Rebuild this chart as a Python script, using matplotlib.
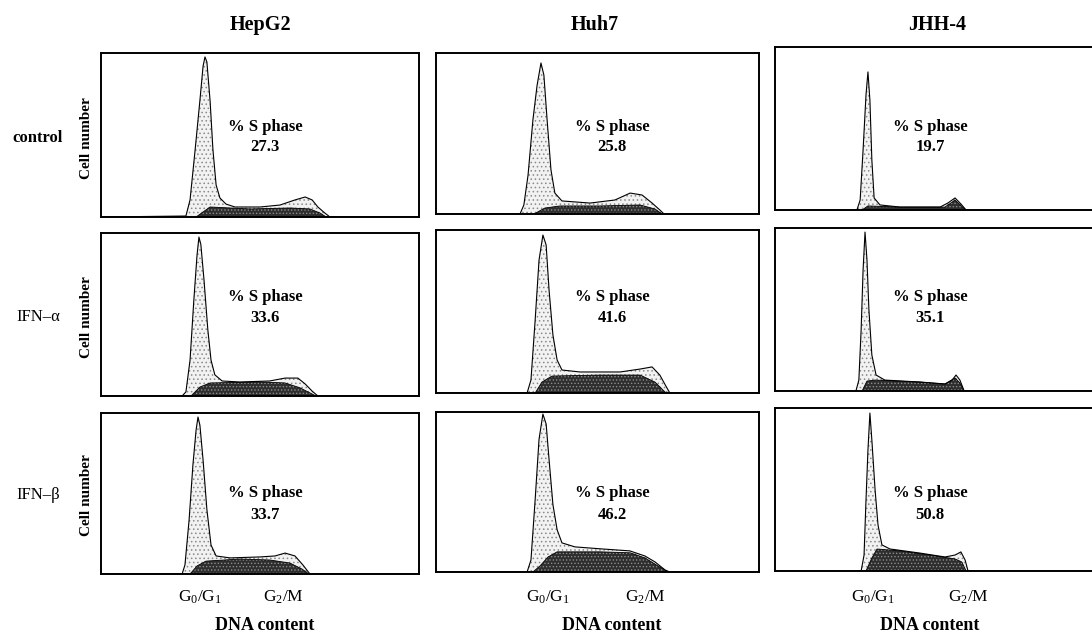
import matplotlib
matplotlib.use("Agg")
import matplotlib.pyplot as plt

plt.rcParams['font.family'] = ['Liberation Serif', 'DejaVu Serif']
plt.rcParams['mathtext.fontset'] = 'custom'
plt.rcParams['mathtext.rm'] = 'Liberation Serif'
plt.rcParams['mathtext.it'] = 'Liberation Serif:italic'
plt.rcParams['mathtext.bf'] = 'Liberation Serif:bold'
plt.rcParams['hatch.linewidth'] = 0.6

# ---------------- data ----------------
cell_lines = ["HepG2", "Huh7", "JHH-4"]
treatments = ["control", "IFN\u2013\u03b1", "IFN\u2013\u03b2"]
s_phase_hepg2 = [27.3, 33.6, 33.7]
s_phase_huh7 = [25.8, 41.6, 46.2]
s_phase_jhh4 = [19.7, 35.1, 50.8]

# histogram outlines (DNA content as fraction of range, cell number as fraction of max)
hepg2_ctrl_x = [0.0, 0.267, 0.280, 0.296, 0.311, 0.321, 0.327, 0.333, 0.343, 0.352, 0.362, 0.374, 0.393, 0.421, 0.50, 0.563, 0.61, 0.642, 0.664, 0.682, 0.704, 0.72, 1.0]
hepg2_ctrl_y = [0.0, 0.006, 0.104, 0.41, 0.71, 0.92, 0.976, 0.945, 0.71, 0.41, 0.195, 0.116, 0.079, 0.061, 0.061, 0.073, 0.104, 0.122, 0.104, 0.061, 0.024, 0.0, 0.0]
hepg2_ctrl_sx = [0.299, 0.343, 0.469, 0.594, 0.657, 0.689, 0.708]
hepg2_ctrl_sy = [0.0, 0.061, 0.049, 0.055, 0.049, 0.024, 0.0]

hepg2_ifna_x = [0.0, 0.255, 0.267, 0.28, 0.292, 0.302, 0.308, 0.314, 0.324, 0.336, 0.346, 0.358, 0.381, 0.437, 0.53, 0.579, 0.619, 0.642, 0.664, 0.682, 1.0]
hepg2_ifna_y = [0.0, 0.0, 0.025, 0.22, 0.59, 0.865, 0.975, 0.93, 0.71, 0.405, 0.22, 0.13, 0.092, 0.086, 0.092, 0.11, 0.11, 0.074, 0.03, 0.0, 0.0]
hepg2_ifna_sx = [0.283, 0.311, 0.343, 0.5, 0.579, 0.626, 0.664, 0.676]
hepg2_ifna_sy = [0.0, 0.055, 0.08, 0.086, 0.08, 0.05, 0.012, 0.0]

hepg2_ifnb_x = [0.0, 0.255, 0.264, 0.277, 0.289, 0.299, 0.305, 0.311, 0.321, 0.333, 0.346, 0.362, 0.406, 0.5, 0.547, 0.579, 0.61, 0.635, 0.657, 1.0]
hepg2_ifnb_y = [0.0, 0.0, 0.056, 0.335, 0.677, 0.894, 0.975, 0.925, 0.708, 0.4, 0.18, 0.112, 0.1, 0.106, 0.112, 0.13, 0.112, 0.056, 0.0, 0.0]
hepg2_ifnb_sx = [0.28, 0.302, 0.33, 0.437, 0.531, 0.594, 0.632, 0.654]
hepg2_ifnb_sy = [0.0, 0.05, 0.08, 0.093, 0.087, 0.068, 0.031, 0.0]

huh7_ctrl_x = [0.0, 0.26, 0.272, 0.285, 0.30, 0.313, 0.325, 0.334, 0.344, 0.356, 0.368, 0.39, 0.477, 0.554, 0.601, 0.638, 0.669, 0.693, 0.706, 1.0]
huh7_ctrl_y = [0.0, 0.0, 0.056, 0.242, 0.584, 0.80, 0.938, 0.863, 0.584, 0.273, 0.13, 0.081, 0.068, 0.087, 0.13, 0.118, 0.068, 0.025, 0.0, 0.0]
huh7_ctrl_sx = [0.303, 0.337, 0.384, 0.508, 0.632, 0.678, 0.70]
huh7_ctrl_sy = [0.0, 0.037, 0.05, 0.05, 0.056, 0.031, 0.0]

huh7_ifna_x = [0.0, 0.282, 0.294, 0.307, 0.319, 0.331, 0.341, 0.35, 0.362, 0.375, 0.39, 0.446, 0.57, 0.632, 0.669, 0.693, 0.715, 0.724, 1.0]
huh7_ifna_y = [0.0, 0.0, 0.08, 0.448, 0.816, 0.969, 0.908, 0.632, 0.356, 0.202, 0.141, 0.129, 0.129, 0.147, 0.16, 0.11, 0.031, 0.0, 0.0]
huh7_ifna_sx = [0.307, 0.328, 0.359, 0.508, 0.632, 0.678, 0.709, 0.715]
huh7_ifna_sy = [0.0, 0.067, 0.104, 0.11, 0.11, 0.067, 0.006, 0.0]

huh7_ifnb_x = [0.0, 0.282, 0.294, 0.307, 0.319, 0.331, 0.341, 0.35, 0.362, 0.375, 0.39, 0.43, 0.508, 0.60, 0.647, 0.678, 0.709, 0.724, 1.0]
huh7_ifnb_y = [0.0, 0.0, 0.075, 0.453, 0.83, 0.987, 0.925, 0.704, 0.421, 0.264, 0.182, 0.157, 0.145, 0.132, 0.10, 0.063, 0.013, 0.0, 0.0]
huh7_ifnb_sx = [0.30, 0.322, 0.347, 0.375, 0.508, 0.601, 0.647, 0.687, 0.718]
huh7_ifnb_sy = [0.0, 0.038, 0.094, 0.126, 0.126, 0.12, 0.088, 0.038, 0.0]

jhh4_ctrl_x = [0.0, 0.252, 0.262, 0.271, 0.28, 0.286, 0.292, 0.298, 0.305, 0.323, 0.385, 0.508, 0.532, 0.554, 0.572, 0.588, 1.0]
jhh4_ctrl_y = [0.0, 0.0, 0.061, 0.368, 0.706, 0.847, 0.675, 0.307, 0.074, 0.031, 0.018, 0.018, 0.043, 0.074, 0.037, 0.0, 0.0]
jhh4_ctrl_sx = [0.268, 0.286, 0.385, 0.523, 0.554, 0.58, 0.588]
jhh4_ctrl_sy = [0.0, 0.025, 0.018, 0.018, 0.061, 0.012, 0.0]

jhh4_ifna_x = [0.0, 0.249, 0.258, 0.265, 0.271, 0.277, 0.283, 0.289, 0.298, 0.311, 0.338, 0.446, 0.523, 0.545, 0.557, 0.569, 0.582, 1.0]
jhh4_ifna_y = [0.0, 0.0, 0.067, 0.374, 0.742, 0.975, 0.804, 0.497, 0.221, 0.098, 0.067, 0.055, 0.043, 0.067, 0.098, 0.067, 0.0, 0.0]
jhh4_ifna_sx = [0.268, 0.283, 0.308, 0.446, 0.523, 0.554, 0.569, 0.582]
jhh4_ifna_sy = [0.0, 0.061, 0.067, 0.055, 0.043, 0.08, 0.049, 0.0]

jhh4_ifnb_x = [0.0, 0.265, 0.274, 0.28, 0.286, 0.292, 0.298, 0.308, 0.317, 0.329, 0.354, 0.446, 0.523, 0.554, 0.572, 0.585, 0.594, 1.0]
jhh4_ifnb_y = [0.0, 0.0, 0.098, 0.436, 0.742, 0.969, 0.804, 0.497, 0.282, 0.16, 0.135, 0.11, 0.086, 0.098, 0.117, 0.067, 0.0, 0.0]
jhh4_ifnb_sx = [0.28, 0.298, 0.314, 0.385, 0.477, 0.554, 0.575, 0.588]
jhh4_ifnb_sy = [0.0, 0.08, 0.135, 0.123, 0.098, 0.074, 0.055, 0.0]

phase_labels = ["G$_0$/G$_1$", "G$_2$/M"]
x_label = "DNA content"
y_label = "Cell number"

# ---------------- layout ----------------
W, H = 1092, 638
fig = plt.figure(figsize=(W / 100, H / 100), dpi=100)
fig.patch.set_facecolor('white')

col_x = [(101, 419), (436, 759), (775, 1100)]
row_y = [
    [(53, 217), (233, 396), (413, 574)],
    [(53, 214), (230, 393), (412, 572)],
    [(47, 210), (228, 391), (408, 571)],
]
title_x = [260, 595, 937]
stext_x = [265, 612, 930]
stext_y = [(127, 147), (297, 318), (493, 515)]
g_label_x = [(200, 283), (548, 645), (873, 968)]

outlines = [
    [(hepg2_ctrl_x, hepg2_ctrl_y), (hepg2_ifna_x, hepg2_ifna_y), (hepg2_ifnb_x, hepg2_ifnb_y)],
    [(huh7_ctrl_x, huh7_ctrl_y), (huh7_ifna_x, huh7_ifna_y), (huh7_ifnb_x, huh7_ifnb_y)],
    [(jhh4_ctrl_x, jhh4_ctrl_y), (jhh4_ifna_x, jhh4_ifna_y), (jhh4_ifnb_x, jhh4_ifnb_y)],
]
sfills = [
    [(hepg2_ctrl_sx, hepg2_ctrl_sy), (hepg2_ifna_sx, hepg2_ifna_sy), (hepg2_ifnb_sx, hepg2_ifnb_sy)],
    [(huh7_ctrl_sx, huh7_ctrl_sy), (huh7_ifna_sx, huh7_ifna_sy), (huh7_ifnb_sx, huh7_ifnb_sy)],
    [(jhh4_ctrl_sx, jhh4_ctrl_sy), (jhh4_ifna_sx, jhh4_ifna_sy), (jhh4_ifnb_sx, jhh4_ifnb_sy)],
]
s_values = [s_phase_hepg2, s_phase_huh7, s_phase_jhh4]


def rect(l, t, r, b):
    return [l / W, 1 - b / H, (r - l) / W, (b - t) / H]


for c in range(3):
    l, r = col_x[c]
    for rr in range(3):
        t, b = row_y[c][rr]
        ax = fig.add_axes(rect(l, t, r, b))
        ax.set_xlim(0, 1)
        ax.set_ylim(0, 1.0)
        ax.set_xticks([])
        ax.set_yticks([])
        for sp in ax.spines.values():
            sp.set_linewidth(1.4)
            sp.set_color('black')
        ox, oy = outlines[c][rr]
        sx, sy = sfills[c][rr]
        ax.fill_between(ox, oy, 0, facecolor='#f2f2f2', edgecolor='#8a8a8a',
                        hatch='....', linewidth=0, zorder=1)
        ax.fill_between(sx, sy, 0, facecolor='#2e2e2e', edgecolor='#8c8c8c',
                        hatch='.....', linewidth=0, zorder=2)
        ax.plot(ox, oy, color='black', linewidth=0.8, zorder=3)
        ax.plot(sx, sy, color='black', linewidth=0.6, zorder=3)
        val = s_values[c][rr]
        y1, y2 = stext_y[rr]
        fig.text(stext_x[c] / W, 1 - y1 / H, "% S phase", ha='center', va='center',
                 fontsize=12, fontweight='bold')
        fig.text(stext_x[c] / W, 1 - y2 / H, f"{val:.1f}", ha='center', va='center',
                 fontsize=12, fontweight='bold')

    fig.text(title_x[c] / W, 1 - 25 / H, cell_lines[c], ha='center', va='center',
             fontsize=14.5, fontweight='bold')
    gx0, gx2 = g_label_x[c]
    fig.text(gx0 / W, 1 - 597 / H, phase_labels[0], ha='center', va='center', fontsize=12.5)
    fig.text(gx2 / W, 1 - 597 / H, phase_labels[1], ha='center', va='center', fontsize=12.5)
    fig.text(stext_x[c] / W, 1 - 625 / H, x_label, ha='center', va='center',
             fontsize=13, fontweight='bold')

row_label_y = [138, 317, 495]
for rr in range(3):
    fig.text(38 / W, 1 - row_label_y[rr] / H, treatments[rr], ha='center', va='center',
             fontsize=12, fontweight='bold' if rr == 0 else 'normal')
    fig.text(86 / W, 1 - row_label_y[rr] / H, y_label, ha='center', va='center',
             rotation=90, fontsize=11, fontweight='bold')

fig.savefig("out.png", dpi=100, facecolor='white')
